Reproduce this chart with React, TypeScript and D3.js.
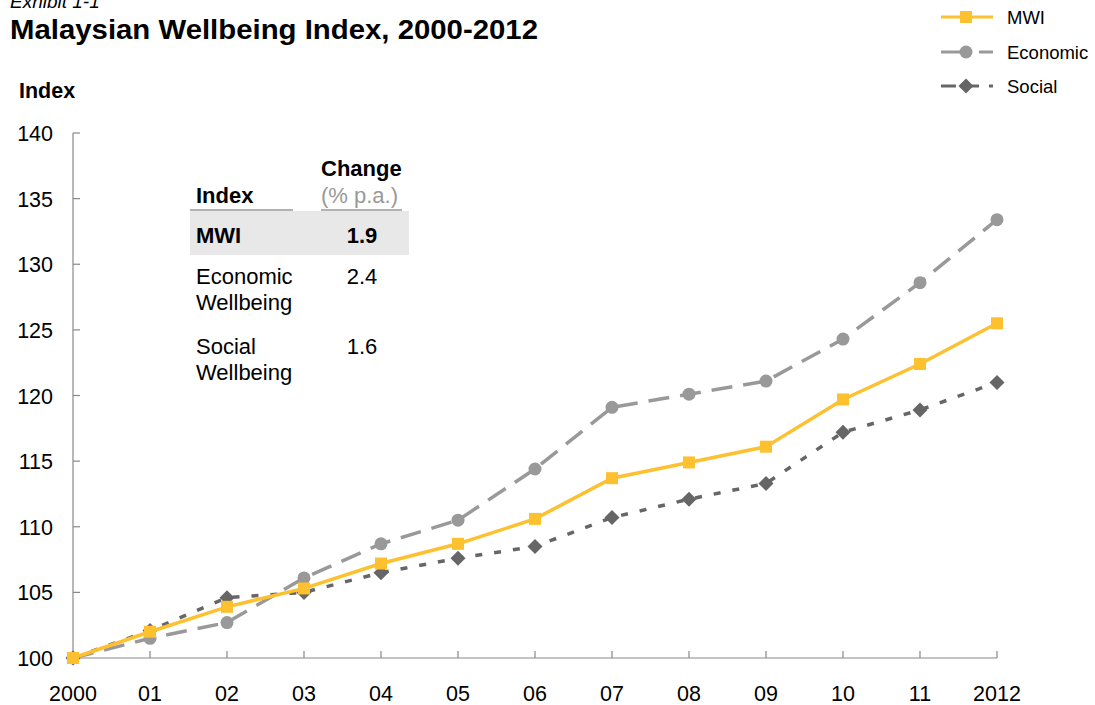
import React from "react";
import * as d3 from "d3";

const years = [2000, 2001, 2002, 2003, 2004, 2005, 2006, 2007, 2008, 2009, 2010, 2011, 2012];
const yearLabels = ["2000", "01", "02", "03", "04", "05", "06", "07", "08", "09", "10", "11", "2012"];
const mwi = [100, 102.0, 103.9, 105.3, 107.2, 108.7, 110.6, 113.7, 114.9, 116.1, 119.7, 122.4, 125.5];
const economic = [100, 101.5, 102.7, 106.1, 108.7, 110.5, 114.4, 119.1, 120.1, 121.1, 124.3, 128.6, 133.4];
const social = [100, 102.1, 104.6, 105.0, 106.5, 107.6, 108.5, 110.7, 112.1, 113.3, 117.2, 118.9, 121.0];
const yTicks = [100, 105, 110, 115, 120, 125, 130, 135, 140];

const tableRows = [
  { name: ["MWI"], change: "1.9", bold: true },
  { name: ["Economic", "Wellbeing"], change: "2.4", bold: false },
  { name: ["Social", "Wellbeing"], change: "1.6", bold: false },
];

const W = 1095;
const H = 705;
const FONT = "Liberation Sans, Arial, Helvetica, sans-serif";
const YELLOW = "#FDC02F";
const LGRAY = "#999999";
const DGRAY = "#666666";

export default function App() {
  const x = d3.scaleLinear().domain([2000, 2012]).range([73, 997]);
  const y = d3.scaleLinear().domain([100, 140]).range([658, 133]);
  const line = (vals: number[]) =>
    d3.line<number>().x((_, i) => x(years[i])).y((v) => y(v))(vals) || "";

  const series = [
    { name: "Economic", vals: economic, color: LGRAY, dash: "21,11", marker: "circle" },
    { name: "Social", vals: social, color: DGRAY, dash: "7,12", marker: "diamond" },
    { name: "MWI", vals: mwi, color: YELLOW, dash: "", marker: "square" },
  ];

  const marker = (kind: string, cx: number, cy: number, color: string, key: any) => {
    if (kind === "square") return <rect key={key} x={cx - 6} y={cy - 6} width={12} height={12} fill={color} />;
    if (kind === "circle") return <circle key={key} cx={cx} cy={cy} r={6.5} fill={color} />;
    return <path key={key} d={`M${cx},${cy - 7.5}L${cx + 7.5},${cy}L${cx},${cy + 7.5}L${cx - 7.5},${cy}Z`} fill={color} />;
  };

  const legend = [
    { name: "MWI", color: YELLOW, marker: "square", y: 17 },
    { name: "Economic", color: LGRAY, marker: "circle", y: 52 },
    { name: "Social", color: DGRAY, marker: "diamond", y: 86 },
  ];

  const TF = 22;

  return (
    <svg width={W} height={H} style={{ position: "absolute", left: 0, top: 0, background: "#fff" }} fontFamily={FONT}>
      <rect width={W} height={H} fill="#fff" />
      <text x={10} y={8} fontSize={19} fontStyle="italic" fill="#000">Exhibit 1-1</text>
      <text x={10} y={39} fontSize={28} fontWeight="bold" fill="#000" textLength={528} lengthAdjust="spacingAndGlyphs">Malaysian Wellbeing Index, 2000-2012</text>
      <text x={19} y={98} fontSize={21.5} fontWeight="bold" fill="#000">Index</text>

      {/* legend */}
      {legend.map((l, i) => (
        <g key={i}>
          {l.name === "MWI" && <line x1={941} x2={993} y1={l.y} y2={l.y} stroke={l.color} strokeWidth={3} />}
          {l.name === "Economic" && (
            <>
              <line x1={941} x2={968} y1={l.y} y2={l.y} stroke={l.color} strokeWidth={3} />
              <line x1={979} x2={993} y1={l.y} y2={l.y} stroke={l.color} strokeWidth={3} />
            </>
          )}
          {l.name === "Social" && (
            <>
              <line x1={941} x2={956} y1={l.y} y2={l.y} stroke={l.color} strokeWidth={3} />
              <line x1={960} x2={979} y1={l.y} y2={l.y} stroke={l.color} strokeWidth={3} />
              <line x1={989} x2={993} y1={l.y} y2={l.y} stroke={l.color} strokeWidth={3} />
            </>
          )}
          {marker(l.marker, 966, l.y, l.color, "m" + i)}
          <text x={1007} y={l.y + 6.5} fontSize={18.5} fill="#000">{l.name}</text>
        </g>
      ))}

      {/* axes */}
      <line x1={73} x2={73} y1={133} y2={658} stroke="#888" strokeWidth={1.2} />
      <line x1={73} x2={997} y1={658} y2={658} stroke="#888" strokeWidth={1.2} />
      {yTicks.map((t) => (
        <g key={t}>
          <line x1={73} x2={80} y1={y(t)} y2={y(t)} stroke="#888" strokeWidth={1.2} />
          <text x={53} y={y(t) + 8} fontSize={21.5} textAnchor="end" fill="#000">{t}</text>
        </g>
      ))}
      {years.map((yr, i) => (
        <g key={yr}>
          {i > 0 && <line x1={x(yr)} x2={x(yr)} y1={651} y2={658} stroke="#888" strokeWidth={1.2} />}
          <text x={x(yr)} y={701} fontSize={21.5} textAnchor="middle" fill="#000">{yearLabels[i]}</text>
        </g>
      ))}

      {/* table */}
      <text x={321} y={176} fontSize={TF} fontWeight="bold" fill="#000">Change</text>
      <text x={196} y={203} fontSize={TF} fontWeight="bold" fill="#000">Index</text>
      <text x={321} y={203} fontSize={TF} fill="#999">(% p.a.)</text>
      <line x1={190} x2={293} y1={210} y2={210} stroke="#999" strokeWidth={1.5} />
      <line x1={321} x2={402} y1={210} y2={210} stroke="#999" strokeWidth={1.5} />
      <rect x={190} y={211} width={219} height={44} fill="#E8E8E8" />
      {tableRows.map((r, i) => {
        const by = [243, 284, 354][i];
        return (
          <g key={i}>
            {r.name.map((n, j) => (
              <text key={j} x={196} y={by + j * 26} fontSize={TF} fontWeight={r.bold ? "bold" : "normal"} fill="#000">{n}</text>
            ))}
            <text x={362} y={by} fontSize={TF} textAnchor="middle" fontWeight={r.bold ? "bold" : "normal"} fill="#000">{r.change}</text>
          </g>
        );
      })}

      {/* series */}
      {series.map((s) => (
        <g key={s.name}>
          <path d={line(s.vals)} fill="none" stroke={s.color} strokeWidth={3.5} strokeDasharray={s.dash || undefined} />
          {s.vals.map((v, i) => marker(s.marker, x(years[i]), y(v), s.color, i))}
        </g>
      ))}
    </svg>
  );
}
